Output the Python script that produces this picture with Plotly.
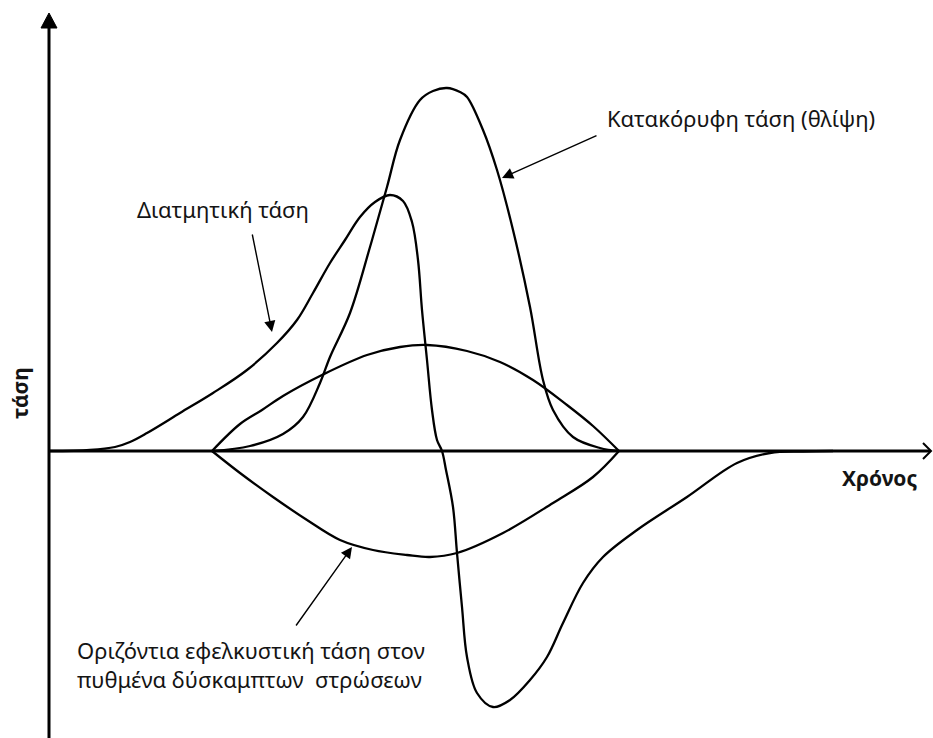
import plotly.graph_objects as go

# tiempo (t) y tensión (s) en unidades arbitrarias
shear_t = [0, 4.1, 6.6, 8.1, 9.8, 13.1, 16.4, 19.8, 22.8, 24.8, 26.4, 28.1, 29.6, 31.1,
           32.6, 34.1, 35.4, 36.3, 36.9, 37.3, 37.8, 38.3, 38.8, 39.3, 39.7, 40.4, 40.8,
           41.3, 41.8, 42.8, 44.4, 46.1, 48.1, 49.8, 51.4, 53.4, 55.4, 58.8, 63.8, 68.8,
           72.1, 75.4, 78.4]
shear_s = [0, 0.1, 0.4, 0.9, 1.8, 3.8, 5.8, 8.1, 10.8, 13.1, 15.8, 18.8, 21.1, 23.4,
           24.9, 25.6, 25.0, 22.9, 19.1, 14.1, 9.1, 4.1, 1.1, 0, -1.9, -5.6, -10.2,
           -15.6, -20.6, -24.2, -25.6, -24.9, -22.9, -20.6, -17.2, -13.2, -10.6, -7.9,
           -4.6, -1.2, -0.2, -0.05, 0]

vert_t = [16.3, 20.1, 23.4, 25.4, 27.1, 28.1, 30.1, 32.1, 33.8, 35.1, 37.1, 38.4, 39.8,
          41.1, 41.8, 43.4, 44.8, 46.4, 48.1, 49.4, 50.4, 52.4, 55.1, 57.0]
vert_s = [0, 0.5, 1.7, 3.4, 6.8, 9.4, 13.8, 20.4, 26.4, 31.1, 35.1, 36.0, 36.3,
          35.9, 35.4, 32.1, 28.1, 22.1, 14.4, 7.1, 4.1, 1.4, 0.3, 0]

arc_up_t = [16.3, 19.1, 21.3, 23.4, 27.3, 31.8, 35.1, 37.8, 41.8, 45.1, 48.4, 51.8, 54.4, 57.0]
arc_up_s = [0, 2.7, 4.1, 5.5, 7.6, 9.6, 10.4, 10.6, 10.0, 8.9, 7.1, 4.6, 2.5, 0]

tens_t = [16.3, 19.1, 22.4, 25.8, 29.1, 32.4, 35.8, 38.1, 40.8, 45.4, 50.4, 54.4, 57.0]
tens_s = [0, -2.2, -4.6, -6.9, -8.9, -9.9, -10.4, -10.6, -10.2, -8.2, -5.2, -2.6, 0]

FONT = "Noto Sans"
TXT = "#141414"

fig = go.Figure()

def add_curve(t, s):
    fig.add_trace(go.Scatter(
        x=t, y=s, mode="lines",
        line=dict(color="black", width=2.3, shape="spline", smoothing=1.0),
        hoverinfo="skip", showlegend=False
    ))

add_curve(shear_t, shear_s)
add_curve(vert_t, vert_s)
add_curve(arc_up_t, arc_up_s)
add_curve(tens_t, tens_s)

x_min, x_max = -4.9, 88.4
y_min, y_max = -28.7, 45.1

# ejes con flechas
shapes = [
    dict(type="line", x0=0, x1=0, y0=y_min, y1=42.6, line=dict(color="black", width=3)),
    dict(type="path", path="M -0.8,42.3 L 0,43.8 L 0.8,42.3 Z",
         fillcolor="black", line=dict(color="black", width=1)),
    dict(type="line", x0=0, x1=88.1, y0=0, y1=0, line=dict(color="black", width=3)),
    dict(type="path", path="M 87.4,0.8 L 88.2,0 L 87.4,-0.8",
         line=dict(color="black", width=2)),
]

def arrow(tip, tail):
    return dict(x=tip[0], y=tip[1], ax=tail[0], ay=tail[1], xref="x", yref="y",
                axref="x", ayref="y", text="", showarrow=True, arrowhead=2,
                arrowsize=1.6, arrowwidth=1.4, arrowcolor="black")

def label(x, y, text, size=22, bold=False, angle=0, anchor="left"):
    return dict(x=x, y=y, xref="x", yref="y", text=f"<b>{text}</b>" if bold else text,
                showarrow=False, xanchor=anchor, yanchor="middle", textangle=angle,
                font=dict(family=FONT, size=size, color=TXT))

annotations = [
    arrow((22.3, 11.9), (20.3, 21.8)),
    arrow((45.3, 27.3), (54.9, 31.6)),
    arrow((30.3, -9.6), (24.6, -17.6)),
    label(8.6, 24.2, "Διατμητική τάση"),
    label(55.6, 33.3, "Κατακόρυφη τάση (θλίψη)"),
    label(2.6, -19.9, "Οριζόντια εφελκυστική τάση στον"),
    label(2.6, -22.8, "πυθμένα δύσκαμπτων  στρώσεων"),
    label(-2.9, 5.8, "τάση", size=21, bold=True, angle=-90, anchor="center"),
    label(79.1, -2.7, "Χρόνος", size=21, bold=True),
]

fig.update_layout(
    width=933, height=738,
    margin=dict(l=0, r=0, t=0, b=0),
    paper_bgcolor="white", plot_bgcolor="white",
    xaxis=dict(range=[x_min, x_max], visible=False, fixedrange=True),
    yaxis=dict(range=[y_min, y_max], visible=False, fixedrange=True),
    shapes=shapes, annotations=annotations,
    showlegend=False
)

# sin margen en la página para que la figura ocupe toda la ventana
fig.write_html("out.html",
               config=dict(displayModeBar=False, staticPlot=True),
               post_script="document.body.style.margin='0';document.body.style.overflow='hidden';")
